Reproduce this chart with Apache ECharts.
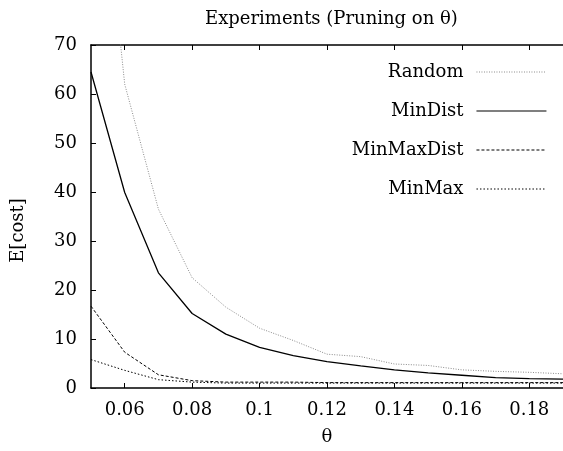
<!DOCTYPE html>
<html>
<head>
<meta charset="utf-8">
<script src="https://cdn.jsdelivr.net/npm/echarts@6/dist/echarts.min.js"></script>
<style>
html,body{margin:0;padding:0;background:#fff;}
#chart{width:563px;height:451px;}
</style>
</head>
<body>
<div id="chart"></div>
<script>
var thetas = [0.05,0.06,0.07,0.08,0.09,0.10,0.11,0.12,0.13,0.14,0.15,0.16,0.17,0.18,0.19];
var randomCost = [128, 62, 36.5, 22.5, 16.5, 12.2, 9.7, 6.9, 6.4, 4.9, 4.6, 3.7, 3.4, 3.2, 2.9];
var minDistCost = [64.5, 39.9, 23.5, 15.2, 11.0, 8.3, 6.6, 5.4, 4.5, 3.7, 3.1, 2.6, 2.1, 1.9, 1.8];
var minMaxDistCost = [16.7, 7.3, 2.7, 1.5, 1.2, 1.2, 1.2, 1.1, 1.1, 1.1, 1.1, 1.1, 1.1, 1.1, 1.1];
var minMaxCost = [5.8, 3.6, 1.7, 1.2, 1.0, 1.0, 1.0, 1.0, 1.0, 1.0, 1.0, 1.0, 1.0, 1.0, 1.0];
var xTicks = [0.06,0.08,0.10,0.12,0.14,0.16,0.18];
var seriesNames = ['Random','MinDist','MinMaxDist','MinMax'];

function pairs(v){ return thetas.map(function(t,i){ return [t, v[i]]; }); }
var FONT = 'DejaVu Serif';
var FS = 18;
var chart = echarts.init(document.getElementById('chart'), null, {renderer:'canvas'});
var axisCommon = {
  type:'value', min:0.05, max:0.19,
  axisLine:{show:true, onZero:false, lineStyle:{color:'#000', width:1.5}},
  splitLine:{show:false}
};
chart.setOption({
  animation:false,
  backgroundColor:'#fff',
  textStyle:{fontFamily:FONT, color:'#000'},
  title:{text:'Experiments (Pruning on θ)', left:200, top:5,
    textStyle:{fontFamily:FONT, fontSize:FS, fontWeight:'normal', color:'#000'}},
  grid:{left:91, top:45, right:-9, bottom:61, containLabel:false},
  legend:{
    orient:'vertical', right:11, top:58, align:'right',
    itemWidth:70, itemHeight:14, itemGap:21,
    itemStyle:{opacity:0},
    lineStyle:{width:1.1},
    textStyle:{fontFamily:FONT, fontSize:FS, color:'#000', padding:[0,8,0,0]},
    data:seriesNames
  },
  xAxis:[
    Object.assign({}, axisCommon, {
      position:'bottom',
      name:'θ', nameLocation:'middle', nameGap:40,
      nameTextStyle:{fontFamily:FONT, fontSize:FS, color:'#000'},
      axisTick:{show:true, inside:true, length:5, customValues:xTicks, lineStyle:{color:'#000'}},
      axisLabel:{show:true, margin:13, customValues:xTicks, fontFamily:FONT, fontSize:FS, color:'#000',
        formatter:function(v){ return String(parseFloat(v.toFixed(2))); }}
    }),
    Object.assign({}, axisCommon, {
      position:'top',
      axisTick:{show:true, inside:true, length:5, customValues:xTicks, lineStyle:{color:'#000'}},
      axisLabel:{show:false}
    })
  ],
  yAxis:{
    type:'value', min:0, max:70, interval:10,
    name:'E[cost]', nameLocation:'middle', nameGap:64, nameRotate:90,
    nameTextStyle:{fontFamily:FONT, fontSize:FS, color:'#000', padding:[0,28,0,0]},
    axisLine:{show:true, lineStyle:{color:'#000', width:1.5}},
    axisTick:{show:true, inside:true, length:5, lineStyle:{color:'#000'}},
    axisLabel:{margin:14, fontFamily:FONT, fontSize:FS, color:'#000'},
    splitLine:{show:false}
  },
  series:[
    {name:'Random', type:'line', data:pairs(randomCost), symbol:'none', clip:true,
      lineStyle:{color:'#8a8a8a', width:1, type:[1,1.5]}, itemStyle:{color:'#8a8a8a'}},
    {name:'MinDist', type:'line', data:pairs(minDistCost), symbol:'none', clip:true,
      lineStyle:{color:'#000', width:1.3, type:'solid'}, itemStyle:{color:'#000'}},
    {name:'MinMaxDist', type:'line', data:pairs(minMaxDistCost), symbol:'none', clip:true,
      lineStyle:{color:'#000', width:1, type:[3,2]}, itemStyle:{color:'#000'}},
    {name:'MinMax', type:'line', data:pairs(minMaxCost), symbol:'none', clip:true,
      lineStyle:{color:'#000', width:1, type:[1.5,2]}, itemStyle:{color:'#000'}}
  ]
});
</script>
</body>
</html>
